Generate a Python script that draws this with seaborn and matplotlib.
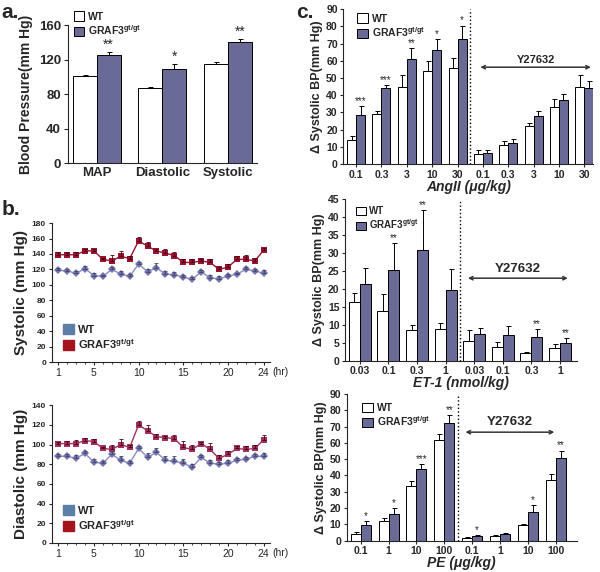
import numpy as np
import pandas as pd
import matplotlib
matplotlib.use('Agg')
import matplotlib.pyplot as plt
import seaborn as sns
from matplotlib.patches import Patch

# ---------- style ----------
sns.set_style('ticks')
plt.rcParams['font.family'] = ['Liberation Sans', 'DejaVu Sans']
plt.rcParams['font.weight'] = 'bold'
plt.rcParams['axes.labelweight'] = 'bold'
plt.rcParams['mathtext.fontset'] = 'custom'
plt.rcParams['mathtext.rm'] = 'Liberation Sans:bold'
plt.rcParams['mathtext.bf'] = 'Liberation Sans:bold'
plt.rcParams['mathtext.it'] = 'Liberation Sans:bold:italic'

PURPLE = '#62629e'
KO_LABEL = r'GRAF3$^{\mathbf{gt/gt}}$'

# ---------- data ----------
# panel a
bp_groups = ['MAP', 'Diastolic', 'Systolic']
bp_wt = [101, 87, 115]
bp_wt_err = [1, 1, 2]
bp_ko = [125, 109, 141]
bp_ko_err = [4, 6, 3]
bp_stars = ['**', '*', '**']

# panel b (24 h telemetry)
hours = list(range(1, 25))
sys_wt = [119, 118, 115, 121, 112, 111, 120, 114, 111, 127, 117, 122,
          114, 113, 110, 107, 117, 109, 108, 111, 114, 120, 118, 115]
sys_wt_err = [3, 3, 3, 3, 3, 2, 3, 4, 3, 3, 4, 6, 4, 4, 3, 3, 2, 4, 3, 3, 2, 3, 3, 4]
sys_ko = [139, 139, 139, 144, 144, 133, 131, 137, 134, 157, 150, 144,
          141, 138, 129, 129, 131, 129, 120, 123, 133, 133, 131, 145]
sys_ko_err = [3, 3, 4, 3, 3, 2, 8, 7, 4, 5, 6, 3, 6, 5, 4, 4, 3, 4, 3, 4, 4, 6, 4, 3]
dia_wt = [88, 88, 86, 91, 82, 81, 90, 84, 81, 96, 87, 92,
          84, 83, 81, 77, 87, 81, 80, 81, 84, 85, 88, 88]
dia_wt_err = [2, 2, 3, 2, 3, 2, 3, 4, 2, 3, 4, 4, 4, 5, 4, 3, 2, 3, 2, 3, 2, 2, 2, 3]
dia_ko = [101, 101, 101, 104, 103, 96, 95, 100, 97, 120, 114, 108,
          107, 106, 97, 95, 101, 95, 86, 90, 96, 95, 96, 105]
dia_ko_err = [2, 3, 4, 3, 3, 2, 5, 6, 3, 4, 6, 3, 2, 4, 7, 5, 2, 7, 3, 3, 3, 4, 4, 5]

# panel c: AngII
ang_doses = ['0.1', '0.3', '3', '10', '30']
ang_wt = [14, 29, 45, 54, 56, 6, 11, 22, 33, 45]
ang_wt_err = [2.5, 2, 7, 6, 5.5, 2, 2.5, 2, 5, 6.5]
ang_ko = [28.5, 44, 61, 66, 72.5, 6.5, 12.5, 28, 37, 44.5]
ang_ko_err = [5.5, 2, 6.5, 6.5, 8, 1.5, 2, 3, 3.5, 4]
ang_stars = ['***', '***', '**', '*', '*', '', '', '', '', '']

# panel c: ET-1
et_doses = ['0.03', '0.1', '0.3', '1']
et_wt = [16.3, 14, 8.5, 8.8, 5.5, 4, 2.1, 3.5]
et_wt_err = [2.5, 4.5, 1.5, 1.8, 3, 1.2, 0.5, 1.2]
et_ko = [21.5, 25.3, 30.8, 19.6, 7.4, 7.3, 6.6, 5.1]
et_ko_err = [4.3, 7.5, 11.2, 6, 1.7, 2.4, 2.2, 1.2]
et_stars = ['', '**', '**', '', '', '', '**', '**']

# panel c: PE
pe_doses = ['0.1', '1', '10', '100']
pe_wt = [4.3, 11.8, 33.8, 61.5, 1.8, 3, 9.3, 37.3]
pe_wt_err = [1, 2, 3, 4, 0.3, 0.5, 1, 3.5]
pe_ko = [9.3, 16.3, 43.7, 72.5, 3, 4.3, 17.8, 50.8]
pe_ko_err = [2.5, 3.5, 3.5, 4.5, 0.5, 0.5, 4, 4.5]
pe_stars = ['*', '*', '***', '**', '*', '', '*', '**']


def grouped_bars(ax, keys, wt, wt_err, ko, ko_err, stars, width, star_size=7):
    n = len(keys)
    df = pd.DataFrame({'key': keys * 2, 'value': wt + ko,
                       'geno': ['WT'] * n + ['GRAF3'] * n})
    sns.barplot(data=df, x='key', y='value', hue='geno', order=keys,
                hue_order=['WT', 'GRAF3'],
                palette={'WT': 'white', 'GRAF3': PURPLE},
                edgecolor='black', linewidth=0.7, width=width,
                errorbar=None, legend=False, ax=ax)
    bars = list(ax.containers[:2])
    for cont, err in zip(bars, [wt_err, ko_err]):
        xs = [b.get_x() + b.get_width() / 2 for b in cont]
        hs = [b.get_height() for b in cont]
        ax.errorbar(xs, hs, yerr=[np.zeros(len(err)), err], fmt='none',
                    ecolor='black', elinewidth=0.7, capsize=1.8, capthick=0.7)
    for b, e, s in zip(bars[1], ko_err, stars):
        if s:
            ax.text(b.get_x() + b.get_width() / 2, b.get_height() + e, s,
                    ha='center', va='bottom', fontsize=star_size,
                    fontweight='normal')
    sns.despine(ax=ax)
    return bars


def bar_legend(ax, bars, size=7.5, anchor=(0.02, 1.02)):
    ax.legend(handles=bars, labels=['WT', KO_LABEL], loc='upper left',
              bbox_to_anchor=anchor, frameon=False, handlelength=1.0,
              handleheight=1.0, handletextpad=0.4, labelspacing=0.15,
              borderaxespad=0, prop={'weight': 'bold', 'size': size})


fig = plt.figure(figsize=(6, 5.72), dpi=100)

# ---------- a ----------
ax_a = fig.add_axes([0.113, 0.715, 0.315, 0.241])
bars = grouped_bars(ax_a, bp_groups, bp_wt, bp_wt_err, bp_ko, bp_ko_err,
                    bp_stars, 0.73, star_size=10)
ax_a.set_xlim(-0.44, 2.44)
ax_a.set_ylim(0, 160)
ax_a.set_yticks([0, 40, 80, 120, 160])
ax_a.tick_params(axis='x', length=0, labelsize=9.5, pad=3)
ax_a.tick_params(axis='y', length=3, labelsize=9.5, pad=2)
ax_a.set_xlabel('')
ax_a.set_ylabel('Blood Pressure(mm Hg)', fontsize=10, labelpad=4)
bar_legend(ax_a, bars, size=7.5, anchor=(0.01, 1.13))

# ---------- b ----------
def telemetry(ax, wt, wt_err, ko, ko_err, ko_color, ymax, ylabel):
    df = pd.DataFrame({'hr': hours * 2, 'bp': wt + ko,
                       'geno': ['WT'] * 24 + ['GRAF3'] * 24})
    sns.lineplot(data=df[df.geno == 'WT'], x='hr', y='bp', color='#8a8cc4',
                 marker='D', markersize=4, markeredgewidth=0,
                 markerfacecolor='#7274b0', lw=1, ax=ax)
    sns.lineplot(data=df[df.geno == 'GRAF3'], x='hr', y='bp', color=ko_color,
                 marker='s', markersize=5, markeredgewidth=0, lw=1, ax=ax)
    ax.errorbar(hours, wt, yerr=[np.zeros(24), wt_err], fmt='none',
                ecolor='#444466', elinewidth=0.6, capsize=1.5, capthick=0.6)
    ax.errorbar(hours, ko, yerr=[np.zeros(24), ko_err], fmt='none',
                ecolor='#440010', elinewidth=0.6, capsize=1.5, capthick=0.6)
    ax.set_xlim(0.33, 24.7)
    ax.set_ylim(0, ymax)
    ax.set_yticks(np.arange(0, ymax + 1, 20))
    ax.set_xticks([1, 5, 10, 15, 20, 24])
    ax.set_xticks(hours, minor=True)
    ax.tick_params(axis='both', which='major', length=2.5, labelsize=6, pad=2)
    ax.tick_params(axis='x', which='major', labelsize=7.5)
    ax.tick_params(axis='x', which='minor', length=1.5)
    for lbl in ax.get_xticklabels():
        lbl.set_fontweight('normal')
    ax.set_xlabel('')
    ax.set_ylabel(ylabel, fontsize=11, labelpad=3)
    ax.text(1.01, -0.035, '(hr)', transform=ax.transAxes, fontsize=7.5,
            fontweight='normal', va='top', ha='left')
    ax.legend(handles=[Patch(color='#5b7fa6'), Patch(color='#a3141e')],
              labels=['WT', KO_LABEL], loc='lower left',
              bbox_to_anchor=(0.03, 0.05), frameon=False, handlelength=1.0,
              handleheight=1.0, handletextpad=0.3, labelspacing=0.2,
              borderaxespad=0, prop={'weight': 'bold', 'size': 8})
    sns.despine(ax=ax)

ax_b1 = fig.add_axes([0.087, 0.367, 0.363, 0.243])
telemetry(ax_b1, sys_wt, sys_wt_err, sys_ko, sys_ko_err, '#9a1230', 180,
          'Systolic (mm Hg)')
ax_b2 = fig.add_axes([0.087, 0.0507, 0.363, 0.241])
telemetry(ax_b2, dia_wt, dia_wt_err, dia_ko, dia_ko_err, '#a3305c', 140,
          'Diastolic (mm Hg)')


# ---------- c ----------
def dose_panel(rect, doses, wt, wt_err, ko, ko_err, stars, width, xlim,
               ymax, ystep, xlabel, arrow, ytxt, txt_size, anchor, leg_size):
    ax = fig.add_axes(rect)
    keys = [d for d in doses] + [d + ' ' for d in doses]
    bars = grouped_bars(ax, keys, wt, wt_err, ko, ko_err, stars, width)
    ax.set_xticks(range(len(keys)))
    ax.set_xticklabels(doses * 2)
    ax.set_xlim(*xlim)
    ax.set_ylim(0, ymax)
    ax.set_yticks(np.arange(0, ymax + 0.1, ystep))
    ax.tick_params(axis='both', length=2.5, labelsize=7.5, pad=1.5)
    ax.set_xlabel(xlabel, fontsize=10, style='italic', labelpad=0)
    ax.set_ylabel('Δ Systolic BP(mm Hg)', fontsize=9, labelpad=2)
    ax.axvline(len(doses) - 0.5, ls=':', color='black', lw=1)
    x0, x1, ya = arrow
    ax.annotate('', xy=(x1, ya), xytext=(x0, ya),
                arrowprops=dict(arrowstyle='<->', lw=1.1, color='#333333',
                                shrinkA=0, shrinkB=0, mutation_scale=6))
    ax.text((x0 + x1) / 2, ytxt, 'Y27632', ha='center', va='center',
            fontsize=txt_size)
    bar_legend(ax, bars, size=leg_size, anchor=anchor)
    return ax

dose_panel([0.572, 0.713, 0.417, 0.271], ang_doses, ang_wt, ang_wt_err,
           ang_ko, ang_ko_err, ang_stars, 0.71, (-0.51, 9.36), 90, 10,
           'AngII (μg/kg)', (4.9, 9.26, 56.3), 60.5, 8, (0.04, 1.0), 7.5)
dose_panel([0.575, 0.369, 0.387, 0.283], et_doses, et_wt, et_wt_err,
           et_ko, et_ko_err, et_stars, 0.77, (-0.52, 7.6), 45, 5,
           'ET-1 (nmol/kg)', (3.78, 7.27, 23), 25.5, 9.5, (0.03, 0.98), 7)
dose_panel([0.578, 0.055, 0.383, 0.256], pe_doses, pe_wt, pe_wt_err,
           pe_ko, pe_ko_err, pe_stars, 0.72, (-0.5, 7.75), 90, 10,
           'PE (μg/kg)', (3.76, 6.95, 66.6), 72.6, 9.5, (0.05, 0.97), 7.5)

# panel letters
fig.text(0.003, 0.995, 'a.', fontsize=15, va='top', ha='left')
fig.text(0.003, 0.650, 'b.', fontsize=15, va='top', ha='left')
fig.text(0.493, 0.995, 'c.', fontsize=15, va='top', ha='left')

fig.savefig('out.png', dpi=100)
